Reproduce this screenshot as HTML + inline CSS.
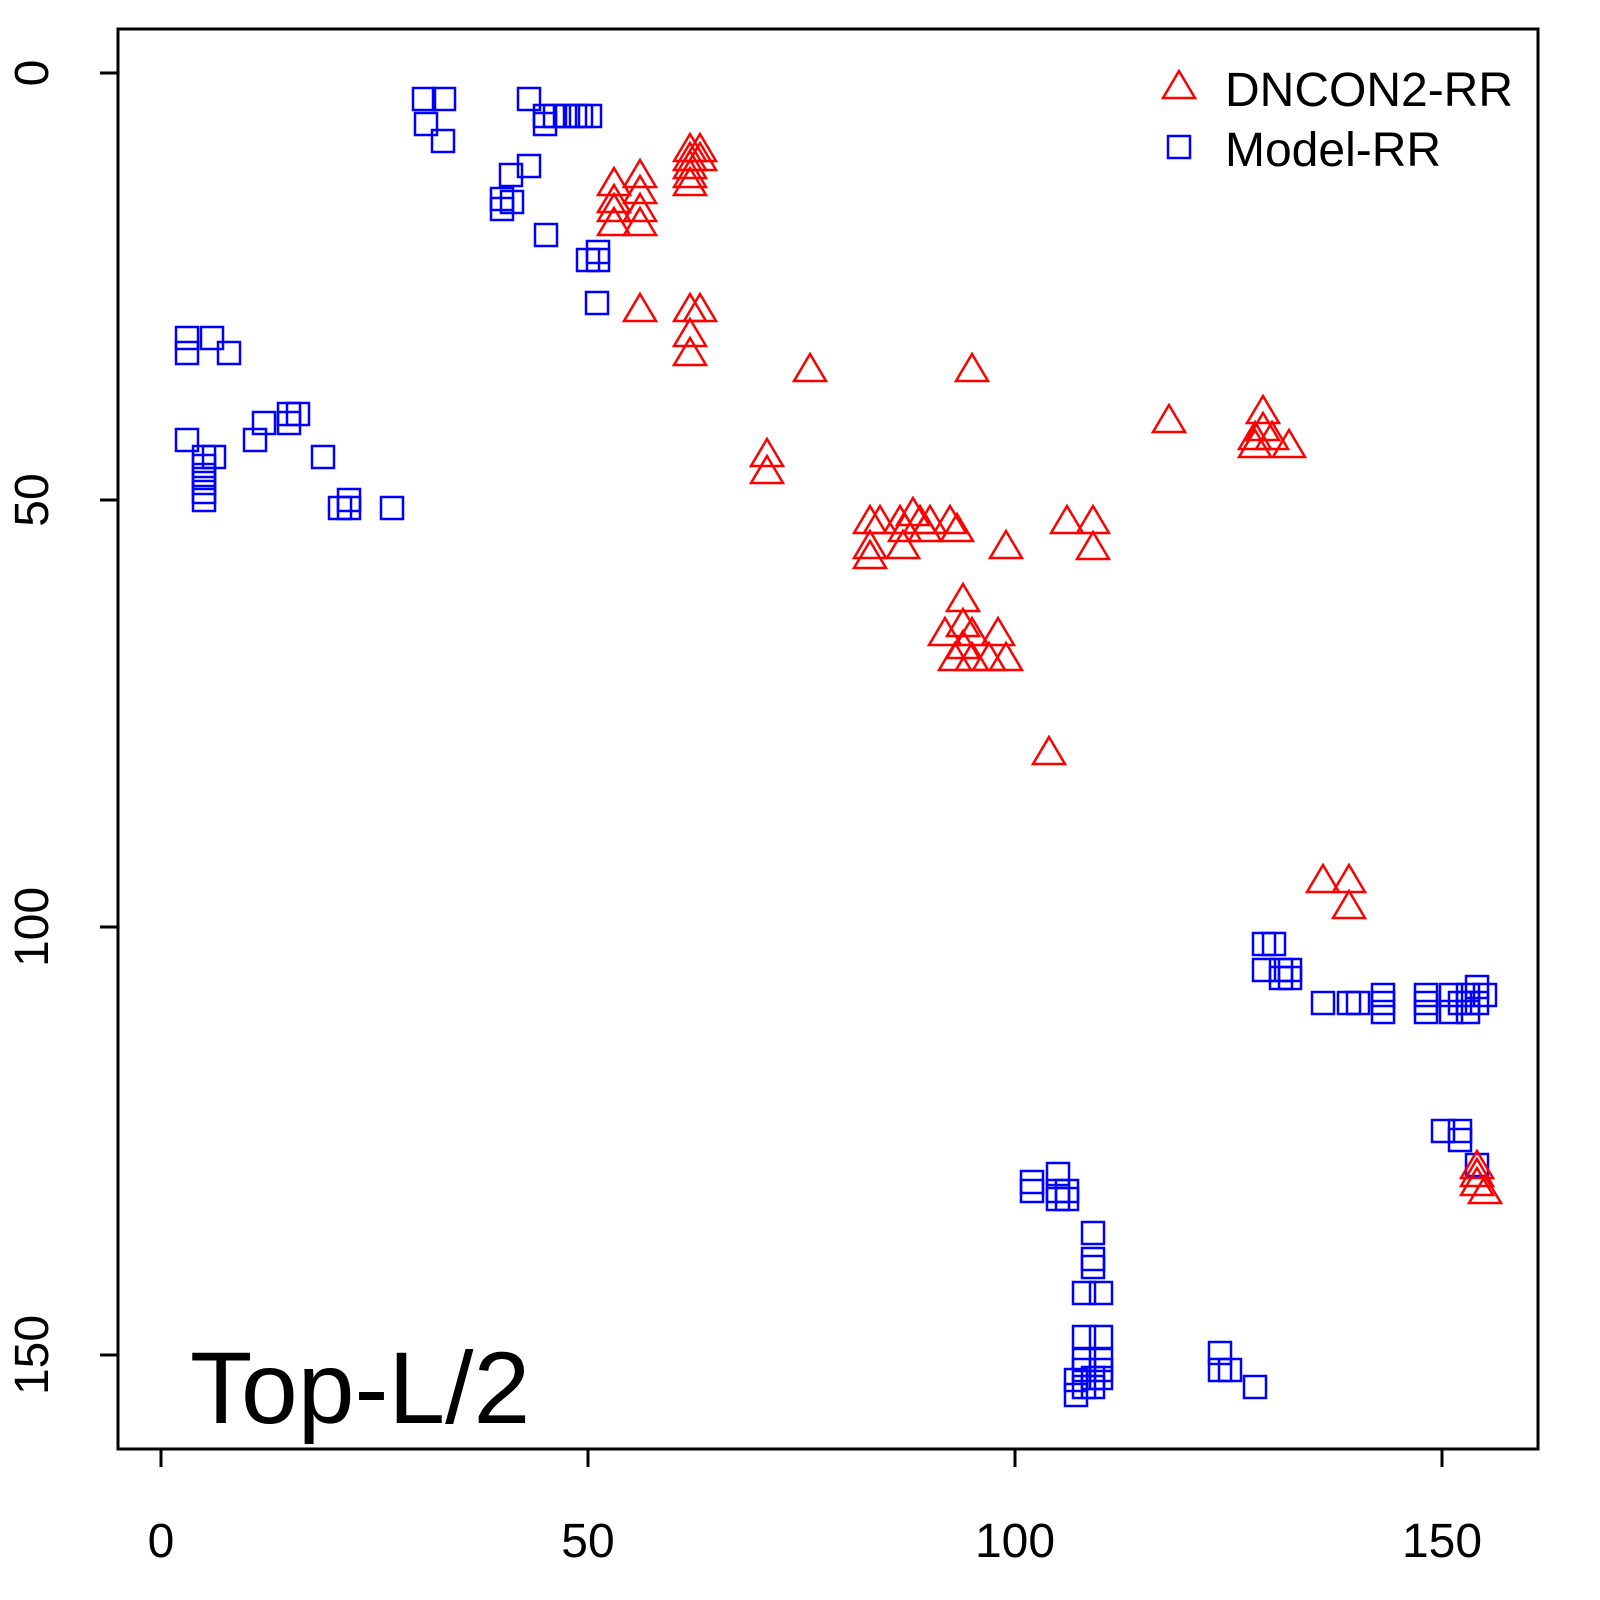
<!DOCTYPE html>
<html><head><meta charset="utf-8"><style>body{margin:0;background:#fff}svg{display:block}</style></head>
<body>
<svg width="1600" height="1600" viewBox="0 0 1600 1600" xmlns="http://www.w3.org/2000/svg" font-family="Liberation Sans, sans-serif">
<rect x="118" y="29" width="1420" height="1420" fill="none" stroke="#000" stroke-width="3"/>
<g stroke="#000" stroke-width="3">
<line x1="161" y1="1449" x2="1442" y2="1449"/>
<line x1="161" y1="1449" x2="161" y2="1467"/><line x1="588" y1="1449" x2="588" y2="1467"/><line x1="1015" y1="1449" x2="1015" y2="1467"/><line x1="1442" y1="1449" x2="1442" y2="1467"/>
<line x1="118" y1="73" x2="118" y2="1355"/>
<line x1="100" y1="73" x2="118" y2="73"/><line x1="100" y1="500" x2="118" y2="500"/><line x1="100" y1="927" x2="118" y2="927"/><line x1="100" y1="1355" x2="118" y2="1355"/>
</g>
<g font-size="48" text-anchor="middle">
<text x="161" y="1557">0</text><text x="588" y="1557">50</text><text x="1015" y="1557">100</text><text x="1442" y="1557">150</text>
<text transform="translate(48,73) rotate(-90)">0</text>
<text transform="translate(48,500) rotate(-90)">50</text>
<text transform="translate(48,927) rotate(-90)">100</text>
<text transform="translate(48,1355) rotate(-90)">150</text>
</g>
<text x="190" y="1423" font-size="102">Top-L/2</text>
<path d="M1179,71 L1195,98 L1163,98 Z" fill="none" stroke="red" stroke-width="2.5"/>
<rect x="1168" y="136" width="22" height="22" fill="none" stroke="blue" stroke-width="2.5"/>
<text x="1225" y="106" font-size="48">DNCON2-RR</text>
<text x="1225" y="166" font-size="48">Model-RR</text>
<g id="sq" fill="none" stroke="blue" stroke-width="2.5"></g>
<g id="tr" fill="none" stroke="red" stroke-width="2.5"></g>
<script>
var sq=[[424,99],[444,99],[426,124],[443,141],[529,99],[545,116],[545,124],[555,116],[565,116],[575,116],[581,116],[590,116],[529,166],[511,175],[502,199],[502,209],[512,202],[546,235],[588,260],[598,252],[598,260],[597,303],[187,338],[187,353],[212,338],[229,353],[187,440],[255,440],[264,423],[289,423],[298,414],[289,414],[204,457],[214,457],[204,466],[204,475],[204,483],[204,492],[204,500],[323,457],[340,508],[349,508],[349,500],[392,508],[1264,944],[1274,944],[1264,970],[1281,970],[1281,978],[1290,970],[1290,978],[1323,1003],[1349,1003],[1358,1003],[1383,995],[1383,1003],[1383,1012],[1426,995],[1426,1003],[1426,1012],[1451,995],[1451,1012],[1460,1003],[1468,995],[1468,1003],[1468,1012],[1477,987],[1485,995],[1477,1003],[1443,1131],[1460,1131],[1460,1140],[1477,1165],[1032,1182],[1032,1191],[1058,1174],[1058,1191],[1067,1191],[1058,1199],[1067,1199],[1093,1233],[1093,1259],[1093,1267],[1084,1293],[1101,1293],[1084,1337],[1101,1337],[1084,1360],[1101,1360],[1084,1370],[1101,1370],[1093,1378],[1101,1378],[1076,1380],[1076,1395],[1084,1387],[1093,1387],[1220,1353],[1220,1370],[1230,1370],[1255,1387]];
var tr=[[614,182],[640,174],[614,199],[640,190],[614,208],[640,208],[614,222],[640,222],[690,148],[700,148],[690,157],[700,157],[690,165],[690,174],[690,182],[640,308],[690,308],[700,308],[690,333],[690,352],[810,368],[972,368],[767,453],[767,470],[1169,419],[1263,410],[1263,427],[1255,436],[1272,436],[1255,444],[1289,444],[870,520],[880,520],[900,520],[913,512],[920,520],[930,520],[950,520],[957,528],[905,528],[925,528],[870,545],[870,555],[903,545],[1006,545],[1067,520],[1093,520],[1093,546],[963,598],[945,632],[963,623],[972,632],[998,632],[955,657],[972,657],[989,657],[1006,657],[963,645],[1049,751],[1323,879],[1349,879],[1349,905],[1477,1165],[1477,1173],[1477,1182],[1485,1190]];
var ns="http://www.w3.org/2000/svg",g1=document.getElementById('sq'),g2=document.getElementById('tr');
sq.forEach(function(p){var r=document.createElementNS(ns,'rect');r.setAttribute('x',p[0]-11);r.setAttribute('y',p[1]-11);r.setAttribute('width',22);r.setAttribute('height',22);g1.appendChild(r);});
tr.forEach(function(p){var r=document.createElementNS(ns,'path');var x=p[0],y=p[1];r.setAttribute('d','M'+x+','+(y-14)+' L'+(x+16)+','+(y+13)+' L'+(x-16)+','+(y+13)+' Z');g2.appendChild(r);});
</script>
</svg>
</body></html>
